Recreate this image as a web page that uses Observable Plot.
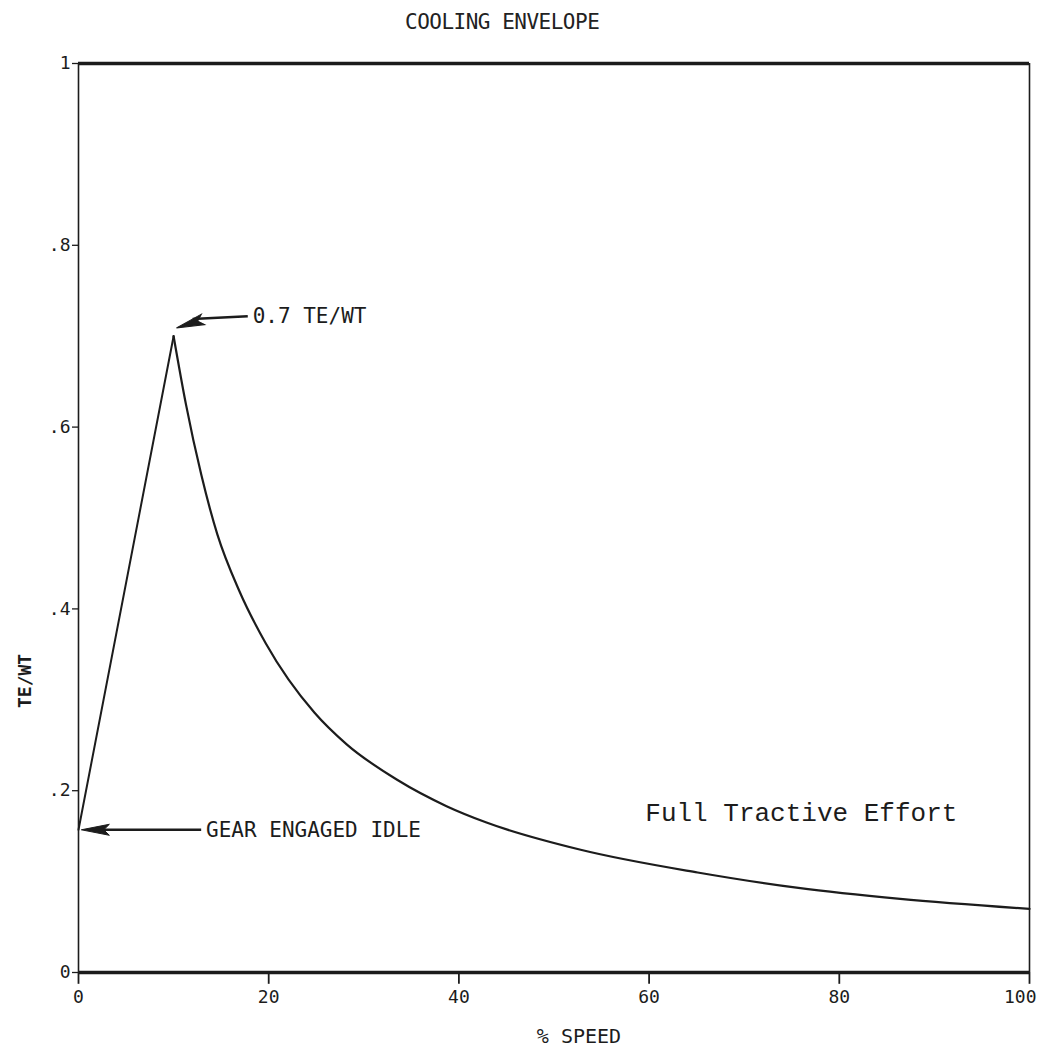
<!DOCTYPE html>
<html>
<head>
<meta charset="utf-8">
<script src="https://cdn.jsdelivr.net/npm/d3@7"></script>
<script src="https://cdn.jsdelivr.net/npm/@observablehq/plot@0.6"></script>
<style>
  html, body { margin: 0; padding: 0; background: #fff; }
  #title { height: 45px; line-height: 45px; padding-left: 405px; font-family: "DejaVu Sans Mono", monospace; font-size: 21px; color: #222; letter-spacing: -0.5px; }
</style>
</head>
<body>
<div id="title">COOLING ENVELOPE</div>
<div id="chart"></div>
<script>
// ---- data ----
const riseSpeed = [0, 10];
const riseTE = [0.157, 0.70];
const decaySpeed = [10, 11.3, 12.9, 14.6, 16.9, 19.7, 24.8, 28.2, 33.5, 38.7, 42.9, 52.8, 65.1, 75.7, 86.4, 100];
const decayTE = [0.70, 0.625, 0.548, 0.482, 0.420, 0.362, 0.286, 0.251, 0.212, 0.183, 0.165, 0.135, 0.110, 0.093, 0.081, 0.070];

const xTicks = [0, 20, 40, 60, 80, 100];
const xTickLabels = ["0", "20", "40", "60", "80", "100"];
const yTicks = [0, 0.2, 0.4, 0.6, 0.8, 1];
const yTickLabels = ["0", ".2", ".4", ".6", ".8", "1"];

// annotations
const noteText = ["0.7 TE/WT", "GEAR ENGAGED IDLE"];
const noteX = [18.1, 13.2];
const noteY = [0.722, 0.157];
const shaftX1 = [17.8, 12.9];
const shaftY1 = [0.722, 0.157];
const shaftX2 = [12.0, 2.5];
const shaftY2 = [0.719, 0.157];
const headX = [10.3, 0.3];
const headY = [0.709, 0.157];
const headRotate = [-18, 0];

const curveLabel = ["Full Tractive Effort"];
const curveLabelX = [59.6];
const curveLabelY = [0.176];

// ---- build ----
const rise = riseSpeed.map((s, i) => ({speed: s, te: riseTE[i]}));
const decay = decaySpeed.map((s, i) => ({speed: s, te: decayTE[i]}));
const notes = noteText.map((t, i) => ({t, x: noteX[i], y: noteY[i], x1: shaftX1[i], y1: shaftY1[i], x2: shaftX2[i], y2: shaftY2[i], hx: headX[i], hy: headY[i], rot: headRotate[i]}));
const xLabels = xTicks.map((v, i) => ({v, label: xTickLabels[i], last: i === xTicks.length - 1}));

const arrowHead = {
  draw(ctx) {
    const L = 28, w = 5.5;
    ctx.moveTo(0, 0);
    ctx.lineTo(L, -w);
    ctx.lineTo(L * 0.8, 0);
    ctx.lineTo(L, w);
    ctx.closePath();
  }
};

const ink = "#1c1c1c";
const mono = "DejaVu Sans Mono";

const chart = Plot.plot({
  width: 1040,
  height: 1017,
  marginTop: 18,
  marginBottom: 90,
  marginLeft: 78,
  marginRight: 11,
  style: {fontFamily: mono, fontSize: "18px", color: ink, background: "#fff"},
  x: {domain: [0, 100], axis: null},
  y: {domain: [0, 1]},
  marks: [
    Plot.ruleX([0, 100], {stroke: ink, strokeWidth: 1.6}),
    Plot.ruleY([0, 1], {stroke: ink, strokeWidth: 3.5}),
    Plot.ruleX(xTicks, {x: d => d, y1: 0, y2: -0.013, stroke: ink, strokeWidth: 1.8}),
    Plot.text(xLabels.filter(d => !d.last), {x: "v", text: "label", frameAnchor: "bottom", dy: 30, fontSize: 18, fontFamily: mono, fill: ink}),
    Plot.text(xLabels.filter(d => d.last), {x: "v", text: "label", frameAnchor: "bottom", dy: 30, dx: 7, textAnchor: "end", fontSize: 18, fontFamily: mono, fill: ink}),
    Plot.axisY({ticks: yTicks, tickFormat: d => yTickLabels[yTicks.indexOf(d)], tickSize: 6, tickPadding: 2, fontSize: 18, label: null, stroke: ink, strokeWidth: 1.3}),
    Plot.text(["% SPEED"], {frameAnchor: "bottom", dx: 25, dy: 70, fontSize: 20, fontFamily: mono, fill: ink}),
    Plot.text(["TE/WT"], {frameAnchor: "left", rotate: -90, dx: -53, dy: 190, fontSize: 18, fontFamily: mono, fill: ink, fontWeight: "bold"}),
    Plot.line(rise, {x: "speed", y: "te", stroke: ink, strokeWidth: 2}),
    Plot.line(decay, {x: "speed", y: "te", curve: "monotone-x", stroke: ink, strokeWidth: 2.2}),
    Plot.link(notes, {x1: "x1", y1: "y1", x2: "x2", y2: "y2", stroke: ink, strokeWidth: 2.6}),
    Plot.dot(notes, {x: "hx", y: "hy", symbol: arrowHead, rotate: "rot", fill: ink, stroke: ink, strokeWidth: 1}),
    Plot.text(notes, {x: "x", y: "y", text: "t", textAnchor: "start", fontSize: 21, fontFamily: mono, fill: ink, dx: 2}),
    Plot.text(curveLabel, {x: curveLabelX, y: curveLabelY, text: d => d, textAnchor: "start", fontSize: 26, fontFamily: "Liberation Mono", fill: ink})
  ]
});
document.getElementById("chart").appendChild(chart);
</script>
</body>
</html>
